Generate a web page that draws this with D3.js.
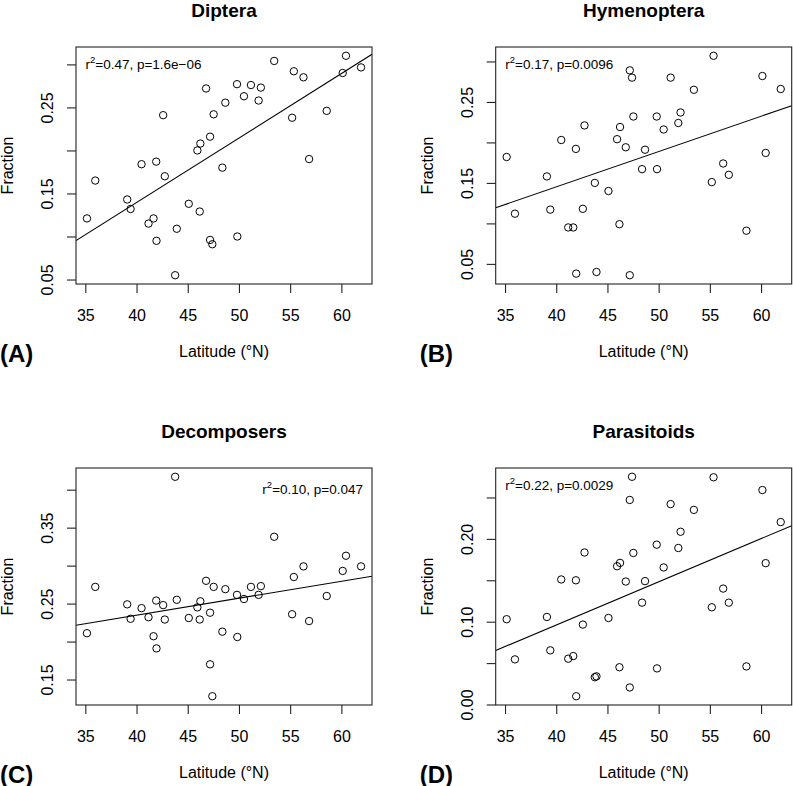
<!DOCTYPE html>
<html>
<head>
<meta charset="utf-8">
<script src="https://cdn.jsdelivr.net/npm/d3@7"></script>
<style>
  html, body { margin: 0; padding: 0; background: #fff; }
  svg text { font-family: "Liberation Sans", Arial, Helvetica, sans-serif; fill: #000; }
</style>
</head>
<body>
<svg id="chart" width="793" height="786"></svg>
<script>
// ---- Data ----
const latitude = [35.16, 35.97, 39.09, 39.42, 40.49, 41.17, 41.66, 41.92, 41.95, 42.60,
  42.76, 43.77, 43.93, 45.10, 45.94, 46.17, 46.23, 46.79, 47.18, 47.18,
  47.40, 47.53, 48.38, 48.67, 49.81, 49.84, 50.49, 51.17, 51.92, 52.14,
  53.44, 55.19, 55.36, 56.30, 56.85, 58.57, 60.13, 60.45, 61.92];

const diptera = [0.121, 0.165, 0.143, 0.132, 0.184, 0.115, 0.121, 0.187, 0.095, 0.241,
  0.170, 0.055, 0.109, 0.138, 0.200, 0.129, 0.208, 0.272, 0.216, 0.096,
  0.091, 0.242, 0.180, 0.2555, 0.277, 0.100, 0.263, 0.276, 0.258, 0.273,
  0.304, 0.238, 0.292, 0.285, 0.190, 0.246, 0.290, 0.310, 0.2965];

const hymenoptera = [0.182, 0.112, 0.158, 0.117, 0.203, 0.095, 0.095, 0.192, 0.038, 0.118,
  0.221, 0.150, 0.040, 0.140, 0.204, 0.099, 0.219, 0.194, 0.289, 0.036,
  0.280, 0.232, 0.167, 0.191, 0.232, 0.167, 0.216, 0.280, 0.224, 0.237,
  0.265, 0.151, 0.307, 0.174, 0.160, 0.091, 0.282, 0.187, 0.266];

const decomposers = [0.211, 0.272, 0.249, 0.230, 0.244, 0.232, 0.207, 0.254, 0.191, 0.248,
  0.229, 0.417, 0.255, 0.231, 0.245, 0.229, 0.253, 0.280, 0.238, 0.170,
  0.128, 0.272, 0.213, 0.269, 0.2615, 0.206, 0.256, 0.272, 0.2615, 0.273,
  0.338, 0.236, 0.285, 0.299, 0.227, 0.260, 0.293, 0.313, 0.299];

const parasitoids = [0.103, 0.0545, 0.1057, 0.0654, 0.151, 0.0553, 0.0585, 0.150, 0.010, 0.0965,
  0.1836, 0.033, 0.034, 0.1045, 0.167, 0.045, 0.171, 0.1485, 0.247, 0.0206,
  0.275, 0.183, 0.123, 0.149, 0.193, 0.0436, 0.1655, 0.242, 0.189, 0.2086,
  0.235, 0.1174, 0.2744, 0.140, 0.123, 0.046, 0.259, 0.1707, 0.2203];

const panelTitles = ["Diptera", "Hymenoptera", "Decomposers", "Parasitoids"];
const panelLetters = ["(A)", "(B)", "(C)", "(D)"];
const statR2 = ["0.47", "0.17", "0.10", "0.22"];
const statP = ["1.6e\u221206", "0.0096", "0.047", "0.0029"];
const statCorner = ["left", "left", "right", "left"];

const xTicks = [35, 40, 45, 50, 55, 60];
const yTicksA = [0.05, 0.10, 0.15, 0.20, 0.25, 0.30];
const yLabelsA = [0.05, 0.15, 0.25];
const yTicksB = [0.05, 0.10, 0.15, 0.20, 0.25, 0.30];
const yLabelsB = [0.05, 0.15, 0.25];
const yTicksC = [0.15, 0.20, 0.25, 0.30, 0.35, 0.40];
const yLabelsC = [0.15, 0.25, 0.35];
const yTicksD = [0.00, 0.05, 0.10, 0.15, 0.20, 0.25];
const yLabelsD = [0.00, 0.10, 0.20];

const xLabel = "Latitude (\u00B0N)";
const yLabel = "Fraction";

// ---- Layout ----
const svg = d3.select("#chart");
const box = { left: 76, top: 47, width: 296, height: 237 };
const colOffset = 419.7, rowOffset = 421;

// R-style axis range: data range extended by 4% on each side
function rRange(vals) {
  const [lo, hi] = d3.extent(vals);
  const pad = (hi - lo) * 0.04;
  return [lo - pad, hi + pad];
}
function fit(xs, ys) {
  const mx = d3.mean(xs), my = d3.mean(ys);
  let sxy = 0, sxx = 0;
  xs.forEach((x, i) => { sxy += (x - mx) * (ys[i] - my); sxx += (x - mx) * (x - mx); });
  const b = sxy / sxx;
  return { a: my - b * mx, b };
}

const series = [diptera, hymenoptera, decomposers, parasitoids];
const yTickSets = [yTicksA, yTicksB, yTicksC, yTicksD];
const yLabelSets = [yLabelsA, yLabelsB, yLabelsC, yLabelsD];

series.forEach((vals, k) => {
  const col = k % 2, row = Math.floor(k / 2);
  const ox = box.left + col * colOffset;
  const oy = box.top + row * rowOffset;
  const g = svg.append("g").attr("transform", `translate(${ox},${oy})`);

  const x = d3.scaleLinear().domain(rRange(latitude)).range([0, box.width]);
  const y = d3.scaleLinear().domain(rRange(vals)).range([box.height, 0]);

  const clipId = "clip" + k;
  g.append("clipPath").attr("id", clipId)
    .append("rect").attr("width", box.width).attr("height", box.height);

  // regression line
  const f = fit(latitude, vals);
  const xd = x.domain();
  g.append("line")
    .attr("clip-path", `url(#${clipId})`)
    .attr("x1", x(xd[0])).attr("y1", y(f.a + f.b * xd[0]))
    .attr("x2", x(xd[1])).attr("y2", y(f.a + f.b * xd[1]))
    .attr("stroke", "#000").attr("stroke-width", 1.1);

  // points
  g.selectAll("circle.pt").data(latitude).enter().append("circle")
    .attr("class", "pt")
    .attr("cx", d => x(d)).attr("cy", (d, i) => y(vals[i]))
    .attr("r", 3.7).attr("fill", "none").attr("stroke", "#000").attr("stroke-width", 1);

  // box
  g.append("rect").attr("width", box.width).attr("height", box.height)
    .attr("fill", "none").attr("stroke", "#222").attr("stroke-width", 1.1);

  // x axis
  const gx = g.append("g").attr("transform", `translate(0,${box.height})`)
    .call(d3.axisBottom(x).tickValues(xTicks).tickSize(9).tickFormat(d3.format("d")));
  gx.select(".domain").remove();
  gx.selectAll(".tick line").attr("stroke", "#222").attr("stroke-width", 1.1);
  gx.selectAll(".tick text").attr("y", 37).attr("dy", 0)
    .attr("font-size", 16).attr("fill", "#000")
    .style("font-family", '"Liberation Sans", Arial, sans-serif');

  // y axis
  const labs = yLabelSets[k];
  const gy = g.append("g")
    .call(d3.axisLeft(y).tickValues(yTickSets[k]).tickSize(9)
      .tickFormat(d => labs.some(v => Math.abs(v - d) < 1e-9) ? d3.format(".2f")(d) : ""));
  gy.select(".domain").remove();
  gy.selectAll(".tick line").attr("stroke", "#222").attr("stroke-width", 1.1);
  gy.selectAll(".tick text")
    .attr("transform", "rotate(-90)")
    .attr("x", 0).attr("y", -23).attr("dy", 0)
    .attr("text-anchor", "middle")
    .attr("font-size", 16).attr("fill", "#000")
    .style("font-family", '"Liberation Sans", Arial, sans-serif');

  // axis titles
  g.append("text").attr("x", box.width / 2).attr("y", 310)
    .attr("text-anchor", "middle").attr("font-size", 16).text(xLabel);
  g.append("text")
    .attr("transform", `translate(${-63},${box.height / 2}) rotate(-90)`)
    .attr("text-anchor", "middle").attr("font-size", 16).text(yLabel);

  // panel title
  g.append("text").attr("x", box.width / 2).attr("y", -30)
    .attr("text-anchor", "middle").attr("font-size", 19).attr("font-weight", "bold")
    .text(panelTitles[k]);

  // panel letter
  g.append("text").attr("x", -box.left).attr("y", 314.5)
    .attr("font-size", 24).attr("font-weight", "bold").text(panelLetters[k]);

  // stats label
  const right = statCorner[k] === "right";
  const st = g.append("text")
    .attr("x", right ? box.width - 9 : 9.5)
    .attr("y", right ? 25.5 : 21.5)
    .attr("text-anchor", right ? "end" : "start")
    .attr("font-size", 13.5);
  st.append("tspan").text("r");
  st.append("tspan").attr("font-size", 9.5).attr("dy", -5.5).text("2");
  st.append("tspan").attr("dy", 5.5).text(`=${statR2[k]}, p=${statP[k]}`);
});
</script>
</body>
</html>
